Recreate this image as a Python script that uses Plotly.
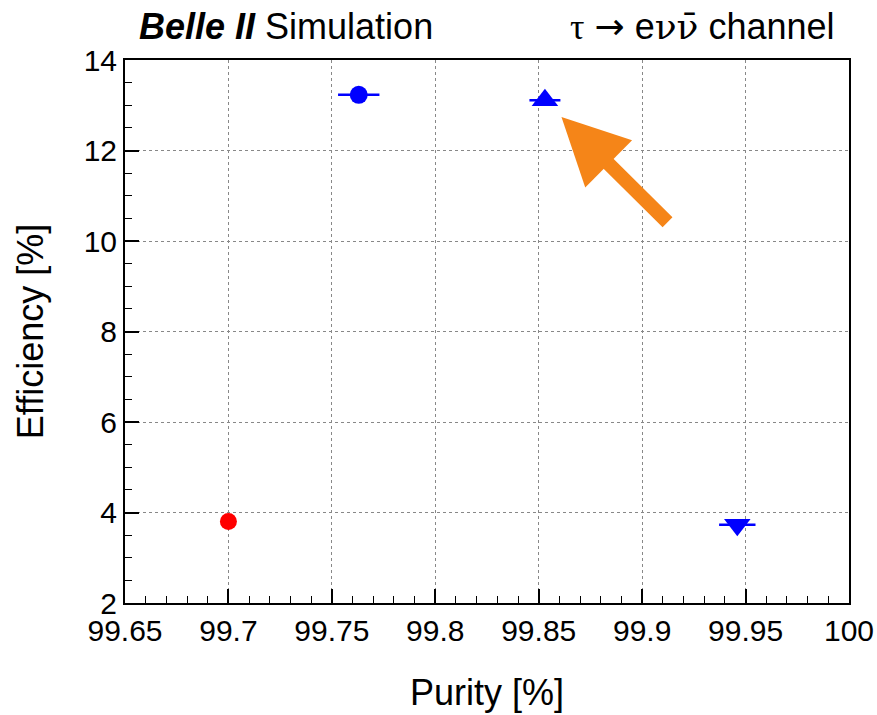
import plotly.graph_objects as go

# Working points: purity vs. efficiency for the tau -> e nu nubar channel
red_purity = [99.70]
red_eff = [3.80]

blue_purity = [99.763, 99.853, 99.946]
blue_eff = [13.23, 13.11, 3.73]
blue_purity_err = [0.010, 0.0075, 0.0088]
blue_symbols = ["circle", "triangle-up", "triangle-down"]
blue_sizes = [18, 23, 23]

x_ticks = [99.65, 99.7, 99.75, 99.8, 99.85, 99.9, 99.95, 100]
x_tick_text = ["99.65", "99.7", "99.75", "99.8", "99.85", "99.9", "99.95", "100"]
y_ticks = [2, 4, 6, 8, 10, 12, 14]

# highlighted point arrow (tip, tail) in data units
arrow_tip = (99.861, 12.74)
arrow_tail = (99.913, 10.38)

FONT = "Liberation Sans, Arial, Helvetica, sans-serif"
SERIF = "Liberation Serif, Times New Roman, serif"
SYM = "DejaVu Serif, serif"

fig = go.Figure()

fig.add_trace(go.Scatter(
    x=blue_purity, y=blue_eff, mode="markers",
    marker=dict(color="#0000ff", size=blue_sizes, symbol=blue_symbols,
                opacity=1, line=dict(width=0)),
    error_x=dict(type="data", array=blue_purity_err, color="#0000ff",
                 thickness=2.5, width=0),
    showlegend=False,
))
fig.add_trace(go.Scatter(
    x=red_purity, y=red_eff, mode="markers",
    marker=dict(color="#ff0000", size=17, symbol="circle", opacity=1,
                line=dict(width=0)),
    showlegend=False,
))

fig.add_annotation(
    x=arrow_tip[0], y=arrow_tip[1], ax=arrow_tail[0], ay=arrow_tail[1],
    xref="x", yref="y", axref="x", ayref="y",
    text="", showarrow=True, arrowhead=2, arrowsize=0.95, arrowwidth=14,
    arrowcolor="#f58518", standoff=0,
)

# header texts above the frame
fig.add_annotation(
    x=0.0166, y=1.0626, xref="paper", yref="paper", showarrow=False,
    text="<b><i>Belle II</i></b> Simulation",
    font=dict(family=FONT, size=36, color="black"),
    xanchor="left", yanchor="middle",
)
fig.add_annotation(
    text=f"<span style='font-family:{SERIF}'>τ</span> "
         f"<span style='font-family:DejaVu Sans'>→</span> e"
         f"<span style='font-family:{SYM}'>νν\u0304</span> channel",
    x=0.9834, y=1.0626, xref="paper", yref="paper", showarrow=False,
    font=dict(family=FONT, size=36, color="black"),
    xanchor="right", yanchor="middle",
)

axis_common = dict(
    showline=True, linecolor="black", linewidth=2, mirror=True,
    ticks="inside", ticklen=14, tickwidth=1.5, tickcolor="black",
    showgrid=True, gridcolor="#888888", gridwidth=1.2, griddash="dot",
    zeroline=False, automargin=False,
    tickfont=dict(family=FONT, size=30, color="black"),
)

fig.update_xaxes(
    range=[99.65, 100], tickvals=x_ticks, ticktext=x_tick_text,
    title=dict(text="Purity [%]", font=dict(family=FONT, size=36, color="black"),
               standoff=34),
    minor=dict(ticks="inside", ticklen=7, tickwidth=1.2, tickcolor="black",
               dtick=0.01, tick0=99.65, showgrid=False),
    **axis_common,
)
fig.update_yaxes(
    range=[2, 14], tickvals=y_ticks,
    title=dict(text="Efficiency [%]", font=dict(family=FONT, size=36, color="black"),
               standoff=29),
    minor=dict(ticks="inside", ticklen=7, tickwidth=1.2, tickcolor="black",
               dtick=0.5, tick0=2, showgrid=False),
    **axis_common,
)

fig.update_layout(
    width=877, height=715,
    margin=dict(l=125, r=28, t=60, b=112),
    plot_bgcolor="white", paper_bgcolor="white",
)

fig.write_html("out.html")
